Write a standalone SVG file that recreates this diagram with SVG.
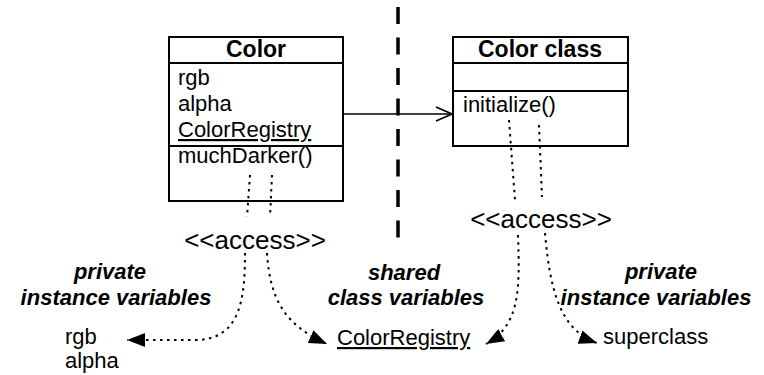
<svg xmlns="http://www.w3.org/2000/svg" width="764" height="375" viewBox="0 0 764 375">
<style>
.box{fill:#fff;stroke:#000;stroke-width:2}
.sep{stroke:#000;stroke-width:2}
.t{font-family:"Liberation Sans",Arial,sans-serif;font-size:22px;fill:#000}
.b{font-family:"Liberation Sans",Arial,sans-serif;font-size:23px;font-weight:bold;fill:#000}
.bi{font-family:"Liberation Sans",Arial,sans-serif;font-size:22px;font-weight:bold;font-style:italic;fill:#000}
.acc{font-family:"Liberation Sans",Arial,sans-serif;font-size:26px;fill:#000}
.dot{fill:none;stroke:#000;stroke-width:2;stroke-dasharray:2.5 4.5}
.u{text-decoration:underline}
</style>
<defs>
<marker id="tri" viewBox="0 0 18 14" refX="18" refY="7" markerWidth="18" markerHeight="14" markerUnits="userSpaceOnUse" orient="auto">
<path d="M0,0 L18,7 L0,14 z" fill="#000"/>
</marker>
<marker id="open" viewBox="0 0 18 16" refX="17" refY="8" markerWidth="18" markerHeight="16" markerUnits="userSpaceOnUse" orient="auto">
<path d="M1,1 L17,8 L1,15" fill="none" stroke="#000" stroke-width="1.6"/>
</marker>
</defs>
<rect width="764" height="375" fill="#fff"/>

<g id="boundary">
<line x1="398" y1="7" x2="398" y2="246" stroke="#000" stroke-width="3.5" stroke-dasharray="17 13.5"/>
</g>

<g id="color">
<rect class="box" x="169" y="37" width="174" height="164"/>
<line class="sep" x1="169" y1="63" x2="343" y2="63"/>
<line class="sep" x1="169" y1="146" x2="343" y2="146"/>
<text class="b" x="256" y="57" text-anchor="middle">Color</text>
<text class="t" x="178" y="85">rgb</text>
<text class="t" x="178" y="111">alpha</text>
<text class="t u" x="178" y="137">ColorRegistry</text>
<text class="t" x="178" y="163">muchDarker()</text>
</g>

<g id="colorclass">
<rect class="box" x="453" y="37" width="175" height="109"/>
<line class="sep" x1="453" y1="63" x2="628" y2="63"/>
<line class="sep" x1="453" y1="91" x2="628" y2="91"/>
<text class="b" x="540" y="57" text-anchor="middle">Color class</text>
<text class="t" x="463" y="112">initialize()</text>
</g>

<g id="access-left">
<text class="acc" x="255" y="249" text-anchor="middle">&lt;&lt;access&gt;&gt;</text>
</g>
<g id="access-right">
<text class="acc" x="541" y="228" text-anchor="middle">&lt;&lt;access&gt;&gt;</text>
</g>

<g id="label-left">
<text class="bi" x="110" y="279" text-anchor="middle">private</text>
<text class="bi" x="116" y="305" text-anchor="middle">instance variables</text>
</g>
<g id="label-middle">
<text class="bi" x="404" y="280" text-anchor="middle">shared</text>
<text class="bi" x="406" y="305" text-anchor="middle">class variables</text>
</g>
<g id="label-right">
<text class="bi" x="661" y="279" text-anchor="middle">private</text>
<text class="bi" x="656" y="305" text-anchor="middle">instance variables</text>
</g>

<g id="vars-left">
<text class="t" x="65" y="344">rgb</text>
<text class="t" x="65" y="368">alpha</text>
</g>
<g id="vars-middle">
<text class="t u" x="337" y="345">ColorRegistry</text>
</g>
<g id="vars-right">
<text class="t" x="603" y="344">superclass</text>
</g>

<g id="connectors">
<line x1="343" y1="114" x2="452" y2="114" stroke="#000" stroke-width="1.6" marker-end="url(#open)"/>
<path class="dot" d="M250,175 L247,217"/>
<path class="dot" d="M272,175 L270,217"/>
<path class="dot" d="M509,120 L515,200"/>
<path class="dot" d="M539,125 L542,197"/>
<path class="dot" d="M245,253 C245,300 240,340 195,340 L127,340" marker-end="url(#tri)"/>
<path class="dot" d="M267,253 C270,300 285,325 327,344" marker-end="url(#tri)"/>
<path class="dot" d="M518,235 C520,290 520,325 486,344" marker-end="url(#tri)"/>
<path class="dot" d="M545,233 C550,290 560,330 597,343" marker-end="url(#tri)"/>
</g>
</svg>
